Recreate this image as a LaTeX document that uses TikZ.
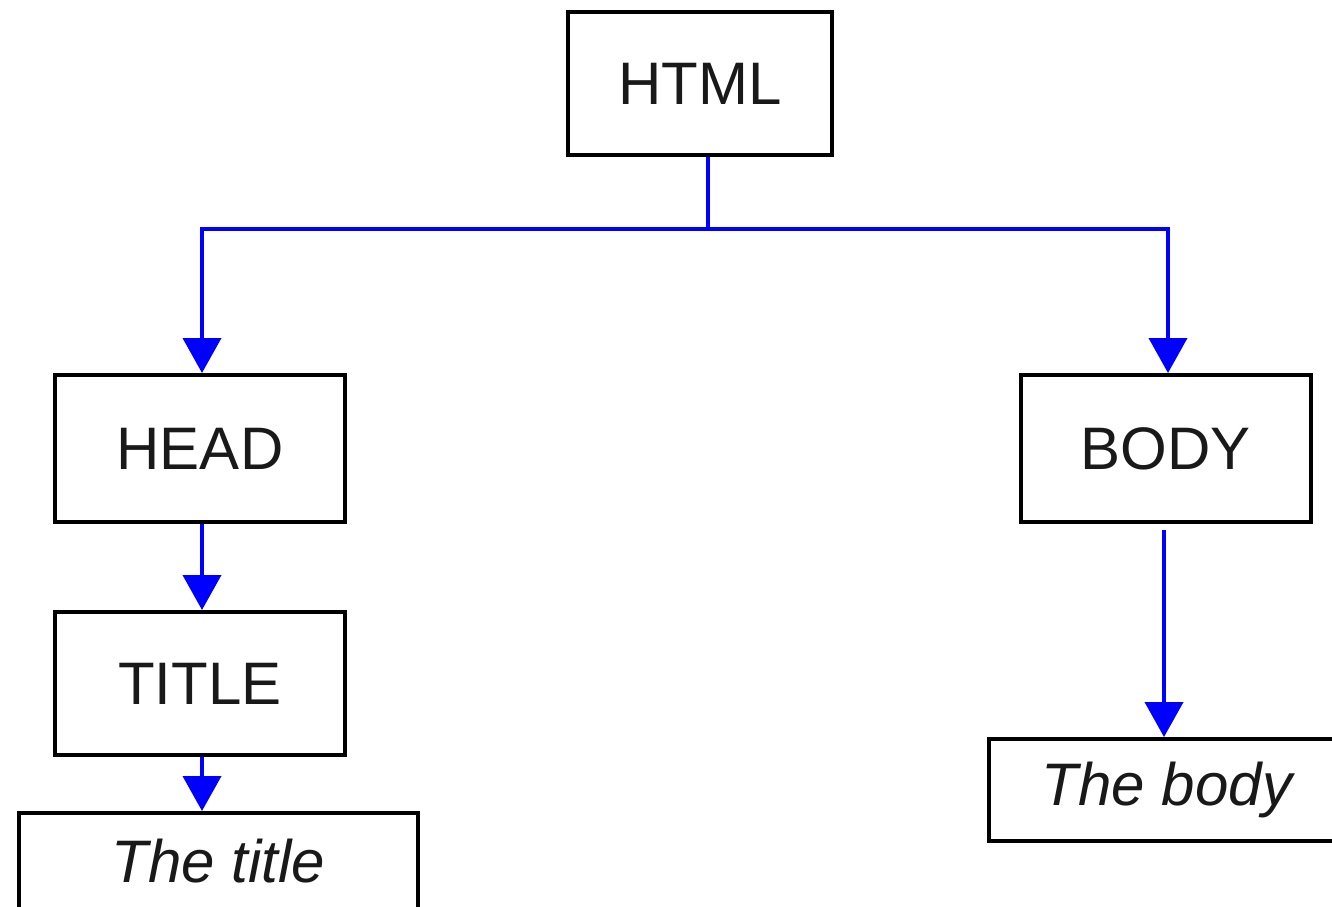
\documentclass[tikz,border=0pt]{standalone}
\usepackage{fontspec}
\setmainfont{Liberation Sans}
\usetikzlibrary{arrows.meta,positioning}

\begin{document}
\begin{tikzpicture}[>={Triangle[length=17.5pt, width=19pt]}, node distance=43pt, tag/.style={draw, line width=2pt, text=black!90, font=\fontsize{30pt}{36pt}\selectfont, minimum width=145pt, minimum height=73.5pt}, leaf/.style={tag, font=\fontsize{30pt}{36pt}\selectfont\itshape}, link/.style={->, draw=blue, line width=2pt}]
\useasboundingbox (0,0) rectangle (666pt,-453pt);
\node[tag, minimum width=132pt, minimum height=71.5pt] (html) at (350pt,-41.75pt) {HTML};
\node[tag] (head) at (100pt,-224.25pt) {HEAD};
\node[tag] (body) at (582.75pt,-224.25pt) {BODY};
\node[tag, below=of head, minimum height=71.5pt] (title) {TITLE};
\node[leaf, below=27pt of title, xshift=9.25pt, minimum width=199.5pt, minimum height=48pt] (ttext) {The title};
\node[leaf, below=106.5pt of body, xshift=0.75pt, minimum width=178pt, minimum height=50.75pt] (btext) {The body};
% tree edges
\draw[link] ([xshift=4pt]html.south) -- ++(0,-36pt) -| ([xshift=1pt]head.north);
\draw[link] ([xshift=4pt]html.south) -- ++(0,-36pt) -| ([xshift=1.25pt]body.north);
\draw[link] ([xshift=1pt]head.south) -- ([xshift=1pt]title.north);
\draw[link] ([xshift=1pt]title.south) -- ([xshift=1pt]title.south |- ttext.north);
\draw[link] ([xshift=-0.75pt, yshift=-3pt]body.south) -- ([xshift=-0.75pt]body.south |- btext.north);
\end{tikzpicture}
\end{document}
